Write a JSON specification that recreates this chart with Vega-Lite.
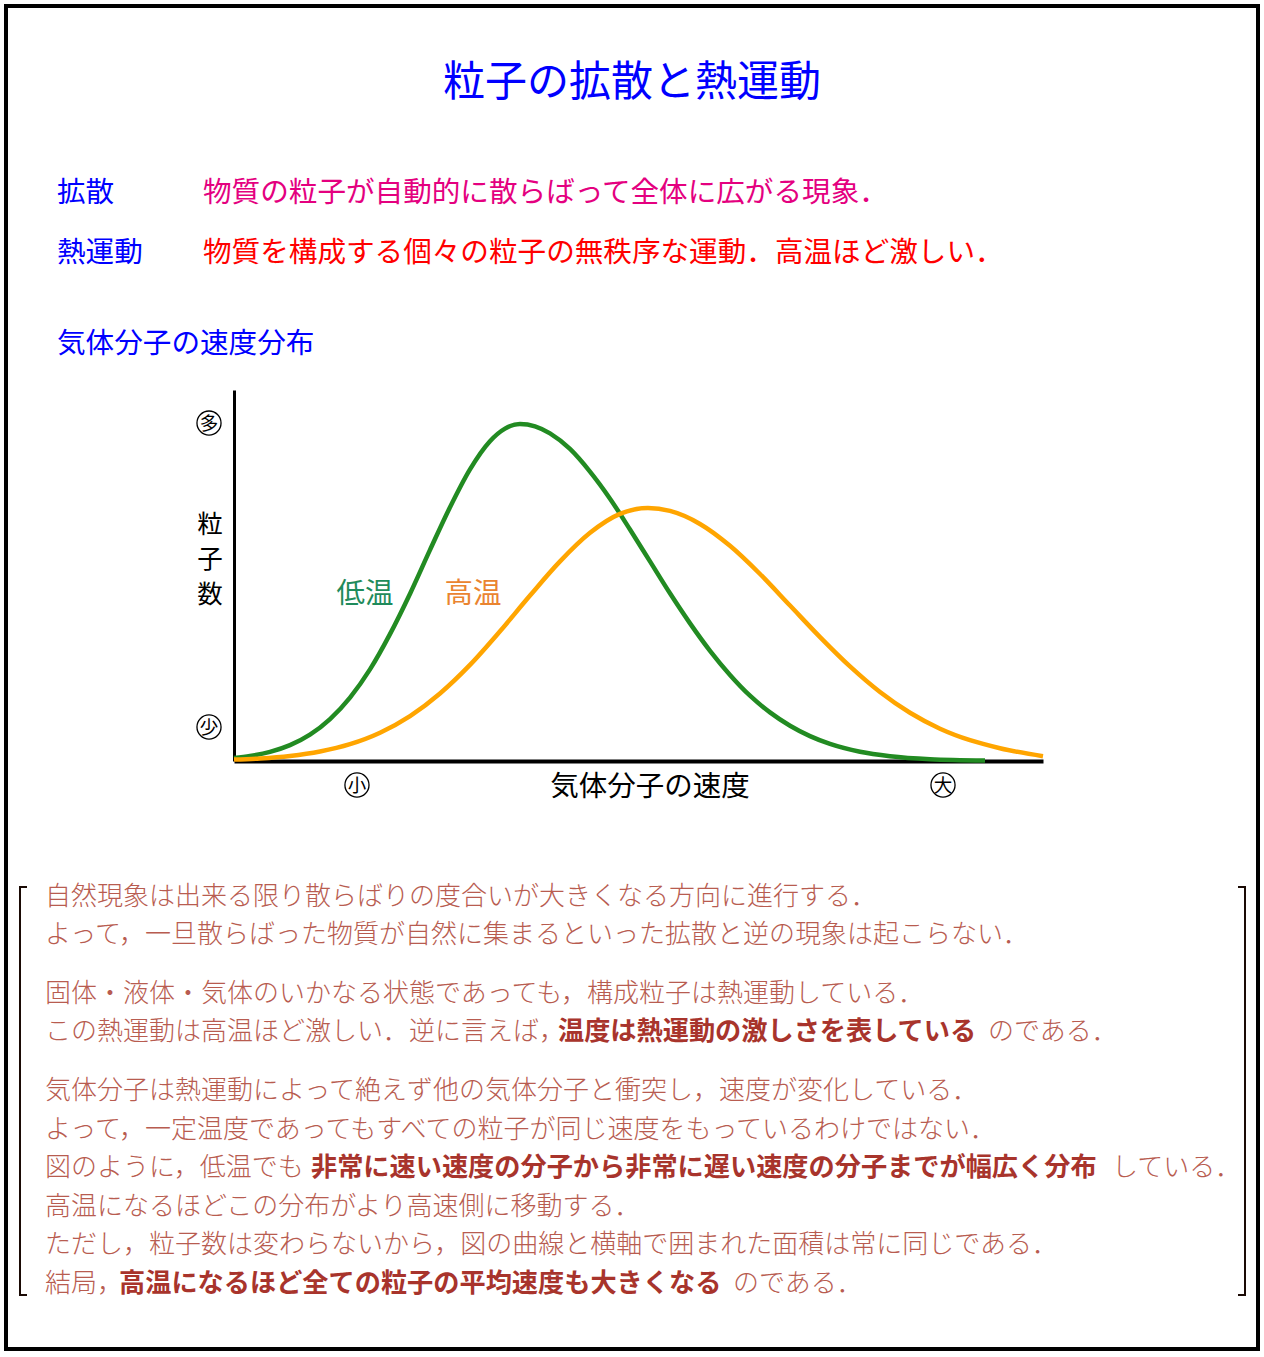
{
  "$schema": "https://vega.github.io/schema/vega-lite/v6.json",
  "autosize": {"type": "fit", "contains": "padding"},
  "width": 1264,
  "height": 1357,
  "padding": {"left": 6, "top": 6, "right": 6, "bottom": 8},
  "background": "white",
  "config": {
    "view": {"stroke": "#000000", "strokeWidth": 4},
    "font": "Noto Sans CJK JP",
    "text": {"font": "Noto Sans CJK JP"}
  },
  "datasets": {
    "header": [
      {"line": 0, "role": "title", "kind": "title", "text": "粒子の拡散と熱運動"},
      {"line": 1, "role": "term", "kind": "term", "text": "拡散"},
      {"line": 1, "role": "def1", "kind": "def", "text": "物質の粒子が自動的に散らばって全体に広がる現象．"},
      {"line": 2, "role": "term", "kind": "term", "text": "熱運動"},
      {"line": 2, "role": "def2", "kind": "def", "text": "物質を構成する個々の粒子の無秩序な運動．高温ほど激しい．"},
      {"line": 3, "role": "sub", "kind": "term", "text": "気体分子の速度分布"}
    ],
    "curves": [
      {"temp": "低温", "speed": 0, "count": 0.8},
      {"temp": "低温", "speed": 1.98, "count": 1.34},
      {"temp": "低温", "speed": 4.45, "count": 2.45},
      {"temp": "低温", "speed": 6.92, "count": 4.27},
      {"temp": "低温", "speed": 9.39, "count": 7.1},
      {"temp": "低温", "speed": 11.87, "count": 11.3},
      {"temp": "低温", "speed": 14.34, "count": 17.1},
      {"temp": "低温", "speed": 16.81, "count": 24.7},
      {"temp": "低温", "speed": 19.28, "count": 34.2},
      {"temp": "低温", "speed": 21.76, "count": 45.1},
      {"temp": "低温", "speed": 24.23, "count": 56.9},
      {"temp": "低温", "speed": 26.7, "count": 68.4},
      {"temp": "低温", "speed": 29.17, "count": 78.6},
      {"temp": "低温", "speed": 31.64, "count": 86.2},
      {"temp": "低温", "speed": 33.5, "count": 89.6},
      {"temp": "低温", "speed": 35.35, "count": 90.84},
      {"temp": "低温", "speed": 37.21, "count": 90.2},
      {"temp": "低温", "speed": 39.06, "count": 88.3},
      {"temp": "低温", "speed": 41.53, "count": 84.1},
      {"temp": "低温", "speed": 44.0, "count": 78.0},
      {"temp": "低温", "speed": 46.48, "count": 70.7},
      {"temp": "低温", "speed": 48.95, "count": 62.4},
      {"temp": "低温", "speed": 51.42, "count": 53.8},
      {"temp": "低温", "speed": 53.89, "count": 45.2},
      {"temp": "低温", "speed": 56.37, "count": 37.1},
      {"temp": "低温", "speed": 58.84, "count": 29.7},
      {"temp": "低温", "speed": 61.31, "count": 23.2},
      {"temp": "低温", "speed": 63.78, "count": 17.6},
      {"temp": "低温", "speed": 66.25, "count": 13.1},
      {"temp": "低温", "speed": 68.73, "count": 9.5},
      {"temp": "低温", "speed": 71.2, "count": 6.7},
      {"temp": "低温", "speed": 73.67, "count": 4.6},
      {"temp": "低温", "speed": 77.38, "count": 2.5},
      {"temp": "低温", "speed": 81.09, "count": 1.3},
      {"temp": "低温", "speed": 86.03, "count": 0.5},
      {"temp": "低温", "speed": 92.83, "count": 0.15},
      {"temp": "高温", "speed": 0, "count": 0.38},
      {"temp": "高温", "speed": 3.21, "count": 0.69},
      {"temp": "高温", "speed": 6.92, "count": 1.36},
      {"temp": "高温", "speed": 10.63, "count": 2.56},
      {"temp": "高温", "speed": 14.34, "count": 4.53},
      {"temp": "高温", "speed": 18.05, "count": 7.62},
      {"temp": "高温", "speed": 21.76, "count": 12.1},
      {"temp": "高温", "speed": 25.46, "count": 18.2},
      {"temp": "高温", "speed": 29.17, "count": 25.9},
      {"temp": "高温", "speed": 32.88, "count": 34.96},
      {"temp": "高温", "speed": 36.59, "count": 44.6},
      {"temp": "高温", "speed": 40.3, "count": 53.8},
      {"temp": "高温", "speed": 44.01, "count": 61.5},
      {"temp": "高温", "speed": 47.71, "count": 66.6},
      {"temp": "高温", "speed": 51.17, "count": 68.19},
      {"temp": "高温", "speed": 53.89, "count": 67.4},
      {"temp": "高温", "speed": 57.6, "count": 63.9},
      {"temp": "高温", "speed": 61.31, "count": 58.0},
      {"temp": "高温", "speed": 65.02, "count": 50.4},
      {"temp": "高温", "speed": 68.73, "count": 41.9},
      {"temp": "高温", "speed": 72.44, "count": 33.4},
      {"temp": "高温", "speed": 76.14, "count": 25.5},
      {"temp": "高温", "speed": 79.85, "count": 18.6},
      {"temp": "高温", "speed": 83.56, "count": 13.0},
      {"temp": "高温", "speed": 87.27, "count": 8.7},
      {"temp": "高温", "speed": 90.98, "count": 5.6},
      {"temp": "高温", "speed": 94.68, "count": 3.44},
      {"temp": "高温", "speed": 100, "count": 1.3}
    ],
    "chartText": [
      {"text": "低温", "kind": "low", "speed": 16.19, "count": 45.55},
      {"text": "高温", "kind": "high", "speed": 29.54, "count": 45.55},
      {"text": "気体分子の速度", "kind": "axis", "speed": 51.42, "count": -6.47}
    ],
    "yLabel": [
      {"text": "粒", "speed": -2.97, "count": 64.15},
      {"text": "子", "speed": -2.97, "count": 54.72},
      {"text": "数", "speed": -2.97, "count": 45.28}
    ],
    "circled": [
      {"char": "多", "speed": -3.09, "count": 91.1},
      {"char": "少", "speed": -3.09, "count": 9.16},
      {"char": "小", "speed": 15.2, "count": -6.47},
      {"char": "大", "speed": 87.64, "count": -6.47}
    ],
    "body": [
      {"line": 1, "start": 0, "style": "plain", "text": "自然現象は出来る限り散らばりの度合いが大きくなる方向に進行する．"},
      {"line": 2, "start": 0, "style": "plain", "text": "よって，一旦散らばった物質が自然に集まるといった拡散と逆の現象は起こらない．"},
      {"line": 3, "start": 0, "style": "plain", "text": "固体・液体・気体のいかなる状態であっても，構成粒子は熱運動している．"},
      {"line": 4, "start": 0, "style": "plain", "text": "この熱運動は高温ほど激しい．逆に言えば，"},
      {"line": 4, "start": 19.96, "style": "bold", "text": "温度は熱運動の激しさを表している"},
      {"line": 4, "start": 36.69, "style": "plain", "text": "のである．"},
      {"line": 5, "start": 0, "style": "plain", "text": "気体分子は熱運動によって絶えず他の気体分子と衝突し，速度が変化している．"},
      {"line": 6, "start": 0, "style": "plain", "text": "よって，一定温度であってもすべての粒子が同じ速度をもっているわけではない．"},
      {"line": 7, "start": 0, "style": "plain", "text": "図のように，低温でも"},
      {"line": 7, "start": 10.35, "style": "bold", "text": "非常に速い速度の分子から非常に遅い速度の分子までが幅広く分布"},
      {"line": 7, "start": 41.52, "style": "plain", "text": "している．"},
      {"line": 8, "start": 0, "style": "plain", "text": "高温になるほどこの分布がより高速側に移動する．"},
      {"line": 9, "start": 0, "style": "plain", "text": "ただし，粒子数は変わらないから，図の曲線と横軸で囲まれた面積は常に同じである．"},
      {"line": 10, "start": 0, "style": "plain", "text": "結局，"},
      {"line": 10, "start": 2.88, "style": "bold", "text": "高温になるほど全ての粒子の平均速度も大きくなる"},
      {"line": 10, "start": 26.77, "style": "plain", "text": "のである．"}
    ],
    "bracket": [{"block": "body"}]
  },
  "resolve": {"scale": {"x": "independent", "y": "independent", "color": "independent"}},
  "layer": [
    {
      "data": {"name": "header"},
      "encoding": {
        "y": {"field": "line", "type": "quantitative", "axis": null,
              "scale": {"domain": [0, 1, 2, 3], "range": [74, 184, 244, 335], "zero": false, "nice": false}},
        "text": {"field": "text", "type": "nominal"}
      },
      "layer": [
        {
          "transform": [{"filter": "datum.role === 'title'"}],
          "mark": {"type": "text", "fontSize": 42, "color": "#0000FF", "align": "center", "baseline": "middle", "dy": 3}
        },
        {
          "transform": [{"filter": "datum.role !== 'title'"}],
          "mark": {"type": "text", "fontSize": 28.6, "align": "left", "baseline": "middle", "dy": 3},
          "encoding": {
            "x": {"field": "kind", "type": "nominal", "axis": null,
                  "scale": {"type": "point", "domain": ["term", "def"], "range": [51, 197], "padding": 0}},
            "color": {"field": "role", "type": "nominal", "legend": null,
                      "scale": {"domain": ["term", "def1", "def2", "sub"], "range": ["#0000FF", "#E4007F", "#FF0000", "#0000FF"]}}
          }
        }
      ]
    },
    {
      "encoding": {
        "x": {"field": "speed", "type": "quantitative",
              "scale": {"domain": [0, 100], "range": [228, 1037], "zero": false, "nice": false},
              "axis": {"orient": "bottom", "offset": -588, "domain": true, "domainColor": "#000000", "domainWidth": 4,
                       "ticks": false, "labels": false, "grid": false, "title": null}},
        "y": {"field": "count", "type": "quantitative",
              "scale": {"domain": [0, 100], "range": [755, 384], "zero": false, "nice": false},
              "axis": {"orient": "left", "offset": -228, "domain": true, "domainColor": "#000000", "domainWidth": 3,
                       "ticks": false, "labels": false, "grid": false, "title": null}}
      },
      "resolve": {"scale": {"color": "independent"}},
      "layer": [
        {
          "data": {"name": "curves"},
          "mark": {"type": "line", "strokeWidth": 4.5, "interpolate": "monotone"},
          "encoding": {
            "color": {"field": "temp", "type": "nominal", "legend": null,
                      "scale": {"domain": ["低温", "高温"], "range": ["#228B22", "#FFA500"]}}
          }
        },
        {
          "data": {"name": "chartText"},
          "mark": {"type": "text", "fontSize": 28.5, "align": "center", "baseline": "middle", "dy": 2},
          "encoding": {
            "text": {"field": "text", "type": "nominal"},
            "color": {"field": "kind", "type": "nominal", "legend": null,
                      "scale": {"domain": ["low", "high", "axis"], "range": ["#1F8B5B", "#EA8430", "#000000"]}}
          }
        },
        {
          "data": {"name": "yLabel"},
          "mark": {"type": "text", "fontSize": 25.5, "align": "center", "baseline": "middle", "color": "#000000", "dy": 2},
          "encoding": {"text": {"field": "text", "type": "nominal"}}
        },
        {
          "data": {"name": "circled"},
          "mark": {"type": "point", "shape": "circle", "size": 580, "filled": false, "color": "#000000", "strokeWidth": 1.3, "opacity": 1}
        },
        {
          "data": {"name": "circled"},
          "mark": {"type": "text", "fontSize": 18.5, "align": "center", "baseline": "middle", "color": "#000000", "dy": 1},
          "encoding": {"text": {"field": "char", "type": "nominal"}}
        }
      ]
    },
    {
      "data": {"name": "body"},
      "encoding": {
        "x": {"field": "start", "type": "quantitative", "axis": null,
              "scale": {"domain": [0, 40], "range": [39, 1067], "zero": false, "nice": false}},
        "y": {"field": "line", "type": "quantitative", "axis": null,
              "scale": {"domain": [1, 2, 3, 4, 5, 10], "range": [889, 927, 986, 1024, 1083, 1276], "zero": false, "nice": false}},
        "text": {"field": "text", "type": "nominal"}
      },
      "layer": [
        {
          "transform": [{"filter": "datum.style === 'plain'"}],
          "mark": {"type": "text", "fontSize": 26, "fontWeight": 300, "align": "left", "baseline": "middle", "color": "#B85C50", "dy": 2}
        },
        {
          "transform": [{"filter": "datum.style === 'bold'"}],
          "mark": {"type": "text", "fontSize": 26.2, "fontWeight": "bold", "align": "left", "baseline": "middle", "color": "#A8342C", "dy": 2}
        }
      ]
    },
    {
      "data": {"name": "bracket"},
      "mark": {"type": "rect", "fillOpacity": 0, "stroke": "#1A0A05", "strokeWidth": 2, "strokeDash": [7, 1211, 422, 1211, 415]},
      "encoding": {
        "x": {"datum": 0, "type": "quantitative", "axis": null,
              "scale": {"domain": [0, 1], "range": [14, 1239], "zero": false, "nice": false}},
        "x2": {"datum": 1},
        "y": {"datum": 0, "type": "quantitative", "axis": null,
              "scale": {"domain": [0, 1], "range": [881, 1289], "zero": false, "nice": false}},
        "y2": {"datum": 1}
      }
    }
  ]
}
